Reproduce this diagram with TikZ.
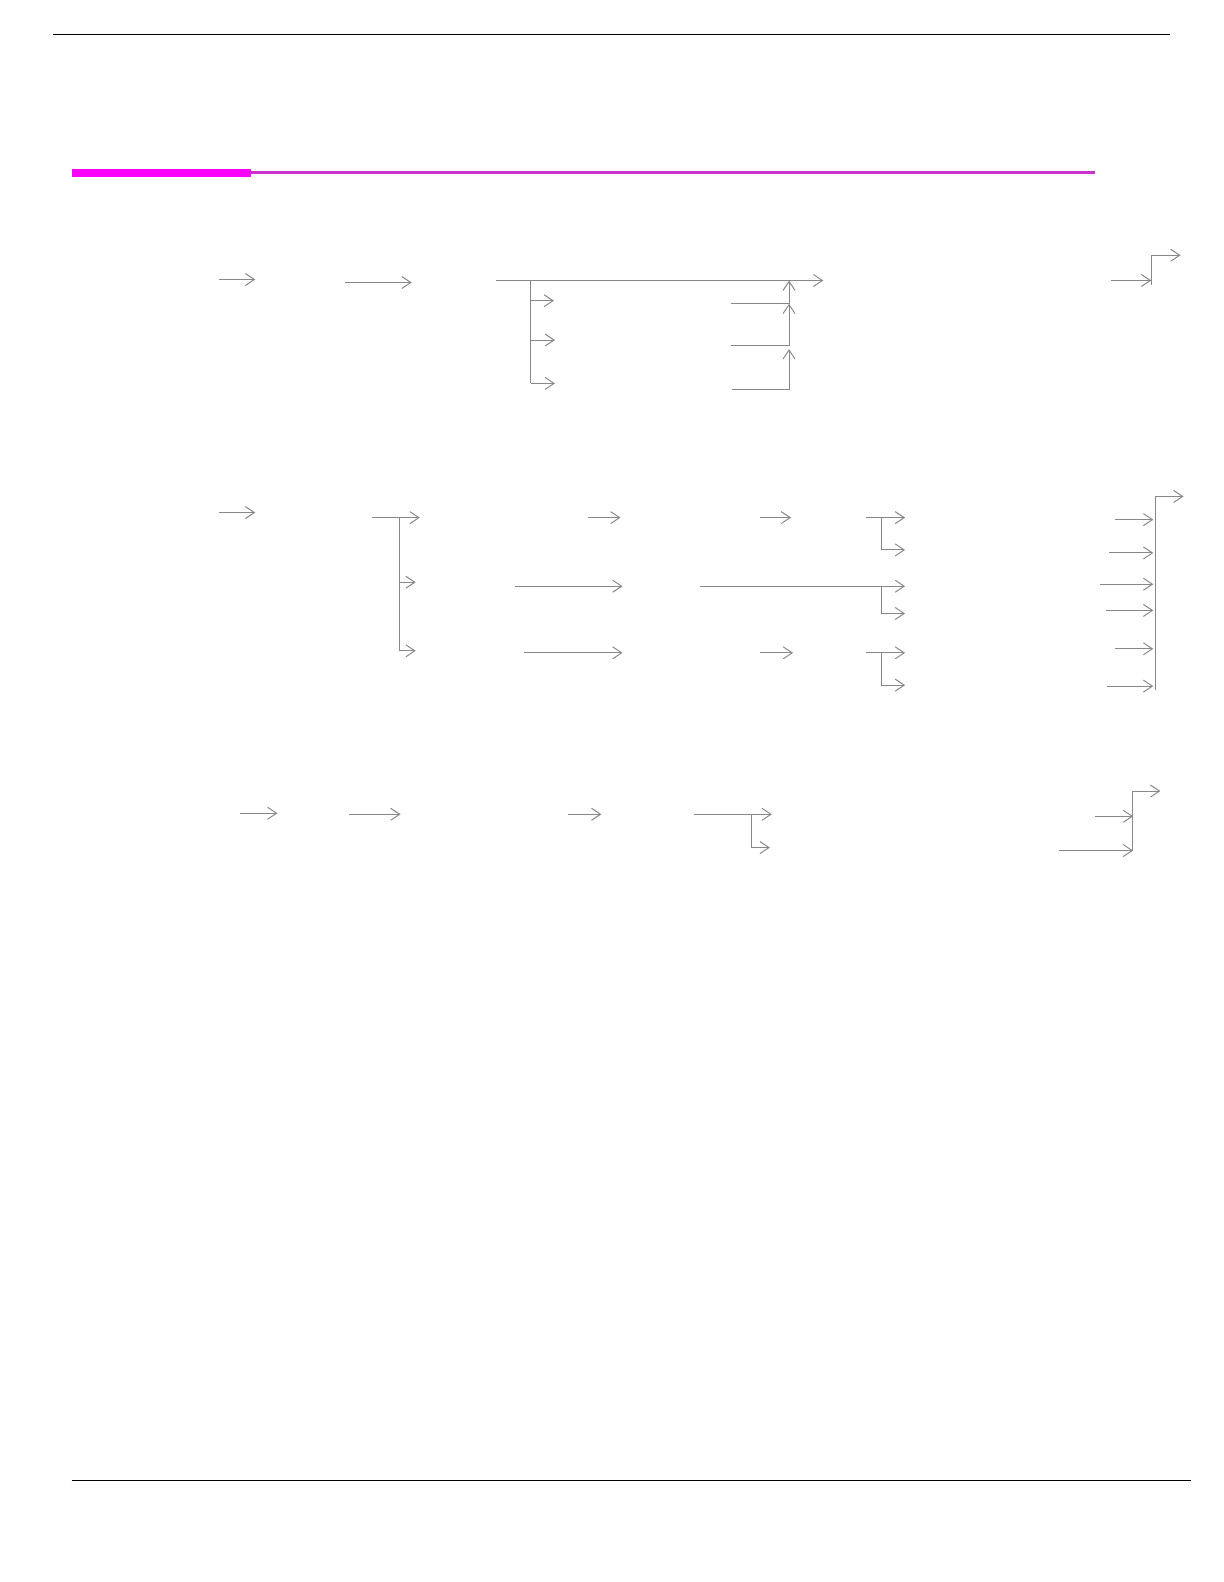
\documentclass[tikz,border=0pt]{standalone}
\usetikzlibrary{arrows.meta}
\definecolor{conn}{HTML}{888888}
\definecolor{barmag}{HTML}{FF00FF}
\definecolor{thinmag}{HTML}{CC33CC}
\tikzset{
  wire/.style={draw=conn, line width=1bp},
  arr/.style={wire, -{Straight Barb[length=9bp,width=12bp,line width=1bp]}},
  rule/.style={draw=black, line width=1.3bp}
}
\begin{document}
\begin{tikzpicture}[x=1.009bp,y=-1.009bp]
\useasboundingbox (0,0) rectangle (1213.08,1567.89);
% page rules
\draw[rule] (53,34) -- (1160,34);
\draw[rule] (71,1467) -- (1180,1467);
\fill[barmag] (71,167) rectangle (249,175);
\draw[thinmag, line width=2.5bp] (249,171) -- (1085,171);

% ---------- section 1 ----------
\draw[arr] (217,277) -- (253,277);
\draw[arr] (342,280) -- (408,280);
\draw[arr] (492,278) -- (816,278);
\draw[wire] (526,278) -- (526,380);
\draw[arr] (526,298) -- (549,298);
\draw[arr] (526,337) -- (550,337);
\draw[arr] (526,380) -- (550,380);
\draw[arr] (724,301) -- (782,301) -- (782,278);
\draw[arr] (724,342) -- (782,342) -- (782,301);
\draw[arr] (725,386) -- (782,386) -- (782,346);
\draw[arr] (1101,278) -- (1141,278);
\draw[arr] (1141,282) -- (1141,253) -- (1170,253);

% ---------- section 2 ----------
\draw[arr] (217,508) -- (253,508);
\draw[arr] (369,513) -- (416,513);
\draw[wire] (396,513) -- (396,645);
\draw[arr] (396,577) -- (412,577);
\draw[arr] (396,645) -- (412,645);
\draw[arr] (583,513) -- (615,513);
\draw[arr] (510,581) -- (617,581);
\draw[arr] (519,647) -- (617,647);
\draw[arr] (753,513) -- (784,513);
\draw[arr] (858,513) -- (897,513);
\draw[arr] (874,513) -- (874,545) -- (897,545);
\draw[arr] (694,581) -- (897,581);
\draw[arr] (874,581) -- (874,608) -- (897,608);
\draw[arr] (753,647) -- (786,647);
\draw[arr] (858,647) -- (897,647);
\draw[arr] (874,647) -- (874,679) -- (897,679);
\draw[arr] (1145,684) -- (1145,492) -- (1173,492);
\draw[arr] (1105,515) -- (1143,515);
\draw[arr] (1099,548) -- (1143,548);
\draw[arr] (1090,579) -- (1143,579);
\draw[arr] (1096,605) -- (1143,605);
\draw[arr] (1105,643) -- (1143,643);
\draw[arr] (1097,680) -- (1143,680);

% ---------- section 3 ----------
\draw[arr] (238,806) -- (275,806);
\draw[arr] (346,807) -- (397,807);
\draw[arr] (563,807) -- (596,807);
\draw[arr] (688,807) -- (765,807);
\draw[arr] (745,807) -- (745,840) -- (763,840);
\draw[arr] (1085,809) -- (1123,809);
\draw[arr] (1050,843) -- (1123,843);
\draw[arr] (1122,843) -- (1122,784) -- (1150,784);
\end{tikzpicture}
\end{document}
